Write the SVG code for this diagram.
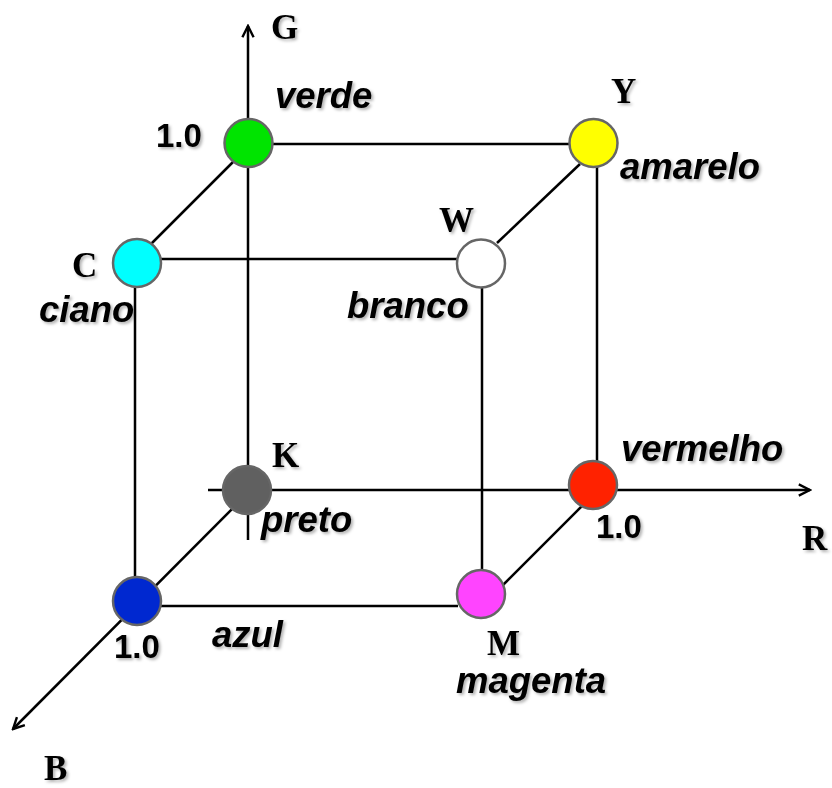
<svg xmlns="http://www.w3.org/2000/svg" width="832" height="788" viewBox="0 0 832 788">
<defs>
<marker id="arr" viewBox="0 0 20 20" refX="18" refY="10" markerWidth="16" markerHeight="16" markerUnits="userSpaceOnUse" orient="auto">
<path d="M4,3 L18,10 L4,17" fill="none" stroke="#000" stroke-width="3" stroke-linejoin="miter"/>
</marker>
<filter id="sh" x="-20%" y="-20%" width="140%" height="160%">
<feDropShadow dx="2" dy="2" stdDeviation="1.5" flood-color="#000" flood-opacity="0.3"/>
</filter>
</defs>
<style>
.e{stroke:#000;stroke-width:2.5;fill:none}
.n{stroke:#666;stroke-width:2.5}
.L{font-family:"Liberation Serif","Times New Roman",serif;font-weight:bold;font-size:35px;fill:#000;filter:url(#sh)}
.t{font-family:"Liberation Sans",Arial,sans-serif;font-weight:bold;font-style:italic;font-size:36.5px;fill:#000;filter:url(#sh)}
.v{font-family:"Liberation Sans",Arial,sans-serif;font-weight:bold;font-size:33px;fill:#000;filter:url(#sh)}
</style>
<rect width="832" height="788" fill="#fff"/>
<g id="connectors">
<line class="e" x1="248" y1="540" x2="248" y2="26" marker-end="url(#arr)"/>
<line class="e" x1="208" y1="490" x2="810" y2="490" marker-end="url(#arr)"/>
<line class="e" x1="248" y1="493" x2="13" y2="729" marker-end="url(#arr)"/>
<line class="e" x1="272" y1="144" x2="570" y2="144"/>
<line class="e" x1="236" y1="159" x2="148" y2="247"/>
<line class="e" x1="160" y1="259" x2="458" y2="259"/>
<line class="e" x1="497" y1="243" x2="580" y2="164"/>
<line class="e" x1="482" y1="287" x2="482" y2="570"/>
<line class="e" x1="597" y1="166" x2="597" y2="462"/>
<line class="e" x1="135" y1="287" x2="135" y2="578"/>
<line class="e" x1="160" y1="606" x2="458" y2="606"/>
<line class="e" x1="582" y1="506" x2="503" y2="585"/>
</g>
<g id="axis-labels">
<text class="L" x="271" y="39">G</text>
<text class="L" x="802" y="550">R</text>
<text class="L" x="44" y="780">B</text>
</g>
<g id="verde">
<circle class="n" cx="248.5" cy="143" r="24" fill="#00E400"/>
<text class="t" x="275" y="108">verde</text>
<text class="v" x="156" y="147">1.0</text>
</g>
<g id="amarelo">
<circle class="n" cx="593.5" cy="143" r="24" fill="#FFFF00"/>
<text class="L" x="611" y="103">Y</text>
<text class="t" x="620" y="179">amarelo</text>
</g>
<g id="branco">
<circle class="n" cx="481" cy="263.5" r="24" fill="#FFFFFF"/>
<text class="L" x="439" y="232">W</text>
<text class="t" x="347" y="318">branco</text>
</g>
<g id="ciano">
<circle class="n" cx="137" cy="263" r="24" fill="#00FFFF"/>
<text class="L" x="72" y="277">C</text>
<text class="t" x="39" y="322">ciano</text>
</g>
<g id="preto">
<circle class="n" cx="247" cy="490" r="24" fill="#606060"/>
<text class="L" x="272" y="467">K</text>
<text class="t" x="261" y="532">preto</text>
</g>
<g id="vermelho">
<circle class="n" cx="593" cy="485" r="24" fill="#FF2200"/>
<text class="t" x="621" y="461">vermelho</text>
<text class="v" x="596" y="538">1.0</text>
</g>
<g id="magenta">
<circle class="n" cx="481" cy="594" r="24" fill="#FF44FF"/>
<text class="L" x="487" y="655">M</text>
<text class="t" x="456" y="693">magenta</text>
</g>
<g id="azul">
<circle class="n" cx="137" cy="601" r="24" fill="#0028D0"/>
<text class="t" x="212" y="647">azul</text>
<text class="v" x="114" y="658">1.0</text>
</g>
</svg>
